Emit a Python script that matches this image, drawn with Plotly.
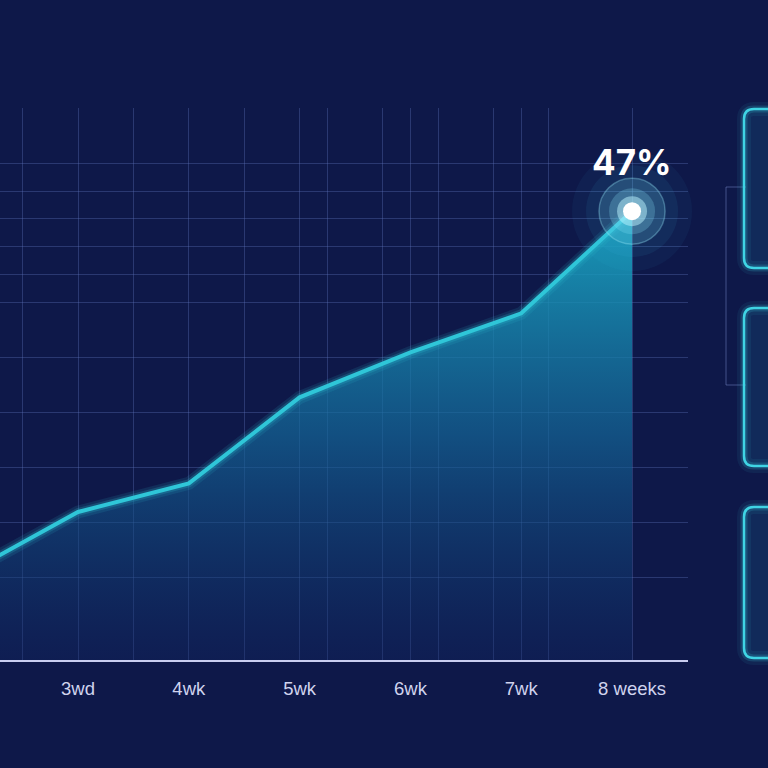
import plotly.graph_objects as go

# ---- data ----
weeks = [2, 3, 4, 5, 6, 7, 8]
progress = [9.1, 15.5, 18.5, 27.5, 32.2, 36.3, 47.0]
tick_positions = [3, 4, 5, 6, 7, 8]
tick_labels = ["3wd", "4wk", "5wk", "6wk", "7wk", "8 weeks"]
peak_label = "47%"

# ---- style ----
BG = "#0e1849"
GRID = "rgba(95,115,185,0.36)"
LINE = "#2fc6d8"
W, H = 768, 768
PLOT_L, PLOT_R, PLOT_T, PLOT_B = 0, 688, 108, 660
Y_TOP = 57.8
px_per_unit = (PLOT_B - PLOT_T) / Y_TOP
grid_y_px = [108.5, 163, 191, 218, 246, 274, 302, 357, 412, 467, 522, 577]
grid_y = [(PLOT_B - p) / px_per_unit for p in grid_y_px]
grid_x_minor = [2.5, 3.5, 4.5, 5.25, 5.75, 6.25, 6.75, 7.25, 8.5]
x_range = [2.296, 8.505]

fig = go.Figure()

# filled area with gradient
fig.add_trace(go.Scatter(
    x=weeks, y=progress, mode="lines", line=dict(width=0, color=LINE),
    fill="tozeroy",
    fillgradient=dict(type="vertical", start=0, stop=max(progress),
                      colorscale=[[0, "rgba(16,40,100,0.35)"],
                                  [0.5, "rgba(20,105,155,0.68)"],
                                  [1, "rgba(26,170,198,0.9)"]]),
    hoverinfo="skip", showlegend=False))
# line glow
fig.add_trace(go.Scatter(x=weeks, y=progress, mode="lines",
                         line=dict(width=13, color="rgba(47,198,216,0.12)"),
                         hoverinfo="skip", showlegend=False))
fig.add_trace(go.Scatter(x=weeks, y=progress, mode="lines",
                         line=dict(width=8, color="rgba(47,198,216,0.2)"),
                         hoverinfo="skip", showlegend=False))
fig.add_trace(go.Scatter(x=weeks, y=progress, mode="lines",
                         line=dict(width=4, color=LINE),
                         hoverinfo="skip", showlegend=False))

# peak glow
px_, py_ = weeks[-1], progress[-1]
halo = [
    (120, "rgba(60,190,230,0.05)", None),
    (92, "rgba(60,190,230,0.08)", None),
    (66, "rgba(110,210,235,0.2)", "rgba(150,230,245,0.35)"),
    (46, "rgba(140,230,250,0.24)", None),
    (30, "rgba(190,245,255,0.5)", None),
    (18, "#ffffff", None),
]
for size, col, lc in halo:
    fig.add_trace(go.Scatter(
        x=[px_], y=[py_], mode="markers",
        marker=dict(size=size, color=col,
                    line=dict(width=1.5 if lc else 0, color=lc or "rgba(0,0,0,0)")),
        cliponaxis=False, hoverinfo="skip", showlegend=False))

fig.add_annotation(x=px_, y=py_, text=f"<b>{peak_label}</b>", showarrow=False,
                   yshift=49, font=dict(family="Inter", size=35, color="#ffffff"))

# ---- right-side panels (decorative) ----
def xp(p):
    return (p - PLOT_L) / (PLOT_R - PLOT_L)

def yp(p):
    return (PLOT_B - p) / (PLOT_B - PLOT_T)

def rrect(x0, y0, x1, y1, r):
    rx, ry = r / (PLOT_R - PLOT_L), r / (PLOT_B - PLOT_T)
    X0, X1, Y0, Y1 = xp(x0), xp(x1), yp(y1), yp(y0)
    return (f"M {X0+rx},{Y0} L {X1-rx},{Y0} Q {X1},{Y0} {X1},{Y0+ry} "
            f"L {X1},{Y1-ry} Q {X1},{Y1} {X1-rx},{Y1} L {X0+rx},{Y1} "
            f"Q {X0},{Y1} {X0},{Y1-ry} L {X0},{Y0+ry} Q {X0},{Y0} {X0+rx},{Y0} Z")

panels = [(744, 109, 800, 268), (744, 308, 800, 466), (744, 507, 800, 658)]
shapes = []
# bracket
shapes.append(dict(type="path", xref="paper", yref="paper",
                   path=f"M {xp(746)},{yp(187)} L {xp(726)},{yp(187)} L {xp(726)},{yp(385)} L {xp(746)},{yp(385)}",
                   line=dict(color="rgba(110,130,190,0.55)", width=1)))
for (x0, y0, x1, y1) in panels:
    path = rrect(x0, y0, x1, y1, 10)
    shapes.append(dict(type="path", xref="paper", yref="paper", path=path,
                       line=dict(color="rgba(60,210,230,0.07)", width=14),
                       fillcolor="rgba(30,110,150,0.22)"))
    shapes.append(dict(type="path", xref="paper", yref="paper", path=path,
                       line=dict(color="rgba(60,210,230,0.18)", width=7)))
    shapes.append(dict(type="path", xref="paper", yref="paper", path=path,
                       line=dict(color="#3fd4e4", width=2.5)))

fig.update_layout(
    width=W, height=H,
    margin=dict(l=PLOT_L, r=W - PLOT_R, t=PLOT_T, b=H - PLOT_B, pad=0),
    paper_bgcolor=BG, plot_bgcolor=BG,
    shapes=shapes,
    xaxis=dict(range=x_range, tickvals=tick_positions, ticktext=tick_labels,
               showgrid=True, gridcolor=GRID, gridwidth=1,
               minor=dict(tickvals=grid_x_minor, showgrid=True, gridcolor=GRID,
                          gridwidth=1, ticks=""),
               showline=True, linecolor="#c9cdf0", linewidth=2,
               zeroline=False, ticks="", ticklabelstandoff=11,
               tickfont=dict(family="Liberation Sans", size=18.5, color="#d0d3ee")),
    yaxis=dict(range=[0, Y_TOP], tickvals=grid_y, showticklabels=False,
               showgrid=True, gridcolor=GRID, gridwidth=1, zeroline=False,
               showline=False, ticks=""),
    showlegend=False,
)

fig.write_html("out.html", config={"displayModeBar": False},
               post_script="document.body.style.margin='0';document.body.style.background='%s';" % BG)
